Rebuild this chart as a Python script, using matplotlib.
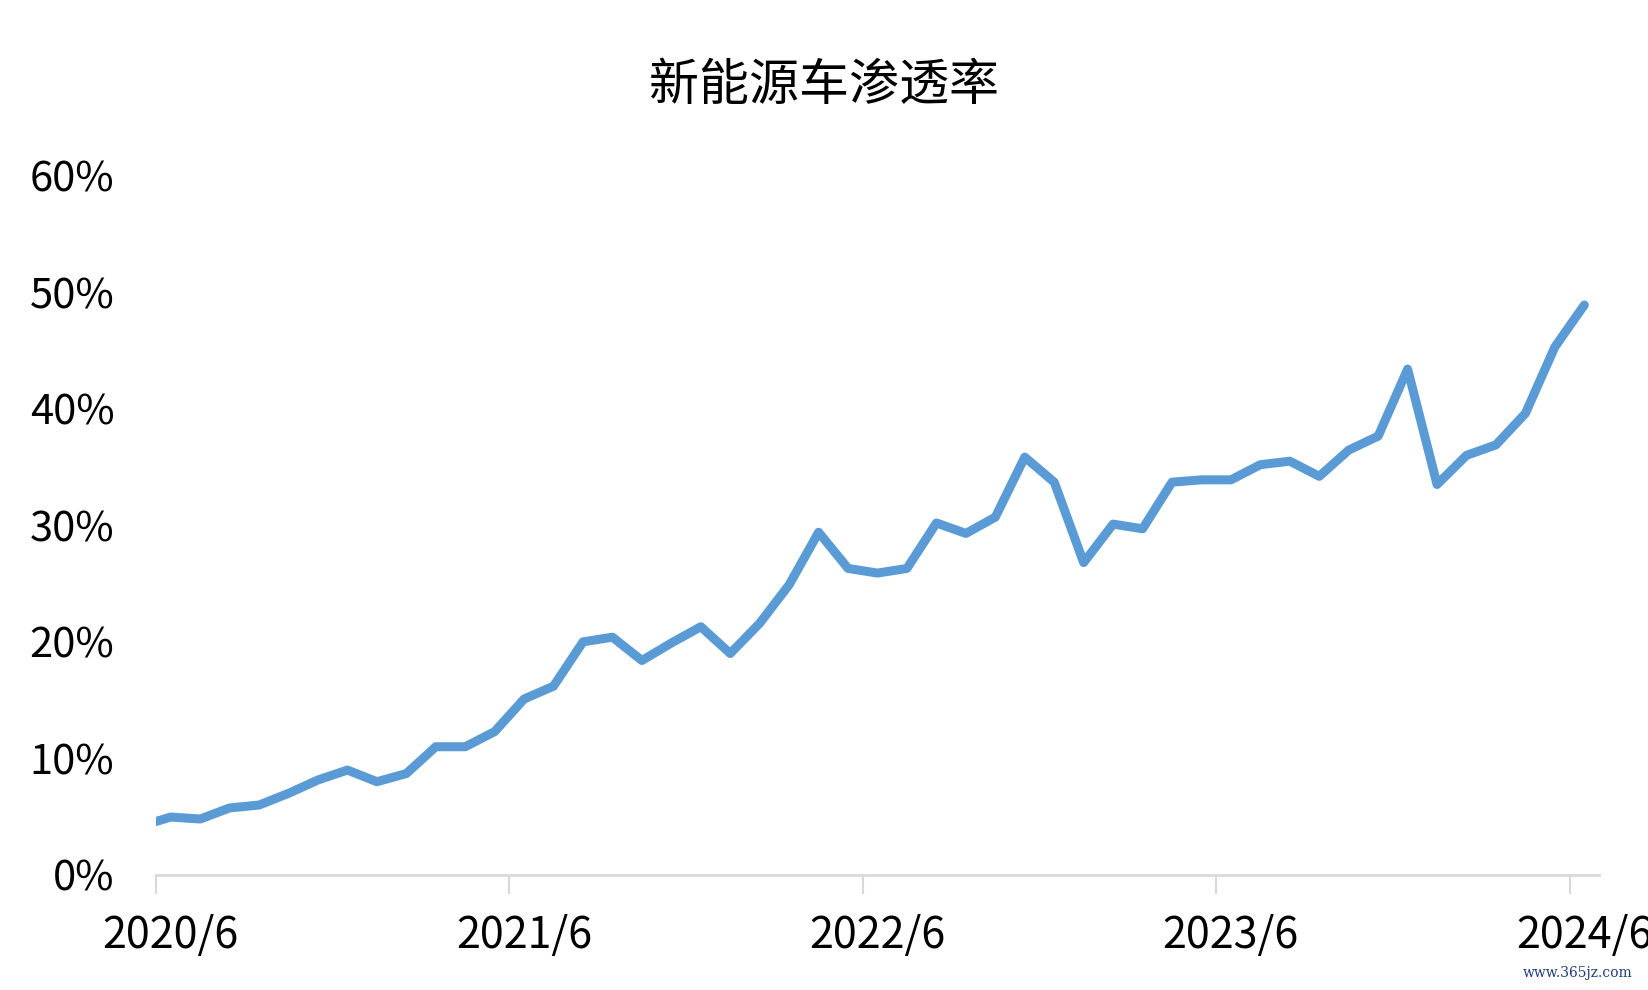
import matplotlib
matplotlib.use("Agg")
import matplotlib.pyplot as plt
from matplotlib.ticker import FixedLocator, NullFormatter

plt.rcParams['font.family'] = ['Noto Sans CJK SC', 'DejaVu Sans']

# monthly data, 2020/5 .. 2024/6 (the first month sits just left of the axis and gets clipped)
months = ["2020/5"] + ["%d/%d" % (2020 + (5 + k) // 12, (5 + k) % 12 + 1) for k in range(49)]
penetration = [4.2,
               4.97, 4.8, 5.75, 6.0, 7.0, 8.15, 9.0, 8.0, 8.7, 11.0, 11.0, 12.3,
               15.1, 16.2, 20.0, 20.4, 18.4, 19.9, 21.3, 19.0, 21.6, 24.9, 29.4, 26.3,
               25.9, 26.3, 30.2, 29.3, 30.7, 35.85, 33.7, 26.8, 30.1, 29.7, 33.7, 33.9,
               33.9, 35.2, 35.5, 34.2, 36.45, 37.65, 43.4, 33.5, 36.0, 36.9, 39.6, 45.3,
               48.9]
label_months = ["2020/6", "2021/6", "2022/6", "2023/6", "2024/6"]
y_ticks = [0, 10, 20, 30, 40, 50, 60]

xpos = [i - 1 for i in range(len(months))]
label_pos = [months.index(m) - 1 for m in label_months]

fig = plt.figure(figsize=(16.49, 9.9), dpi=100)
ax = fig.add_axes([0.0946, 0.1162, 0.8751, 0.7064])

ax.plot(xpos, penetration, color='#5B9BD5', linewidth=6.5,
        solid_capstyle='round', solid_joinstyle='round', zorder=3)

ax.set_xlim(-0.5, 48.5)
ax.set_ylim(0, 60)

# ticks at category boundaries, labels centred on the category
ax.xaxis.set_major_locator(FixedLocator([p - 0.5 for p in label_pos]))
ax.xaxis.set_major_formatter(NullFormatter())
ax.set_xticks(label_pos, label_months, minor=True)
ax.tick_params(axis='x', which='major', length=14, width=1.5, color='#d9d9d9', direction='out')
ax.tick_params(axis='x', which='minor', length=0, pad=28, labelsize=31, labelcolor='black')

ax.set_yticks(y_ticks, ["%d%%" % v for v in y_ticks])
ax.tick_params(axis='y', length=0, pad=30, labelsize=30, labelcolor='black')

for s in ['top', 'right', 'left']:
    ax.spines[s].set_visible(False)
ax.spines['bottom'].set_color('#d9d9d9')
ax.spines['bottom'].set_linewidth(2)

fig.text(0.5, 0.913, "新能源车渗透率", ha='center', va='center', fontsize=36, color='black')
fig.text(0.957, 0.017, "www.365jz.com", ha='center', va='center', fontsize=10,
         color='#1f3d7a', family='DejaVu Serif')

fig.savefig("out.png", dpi=100)
